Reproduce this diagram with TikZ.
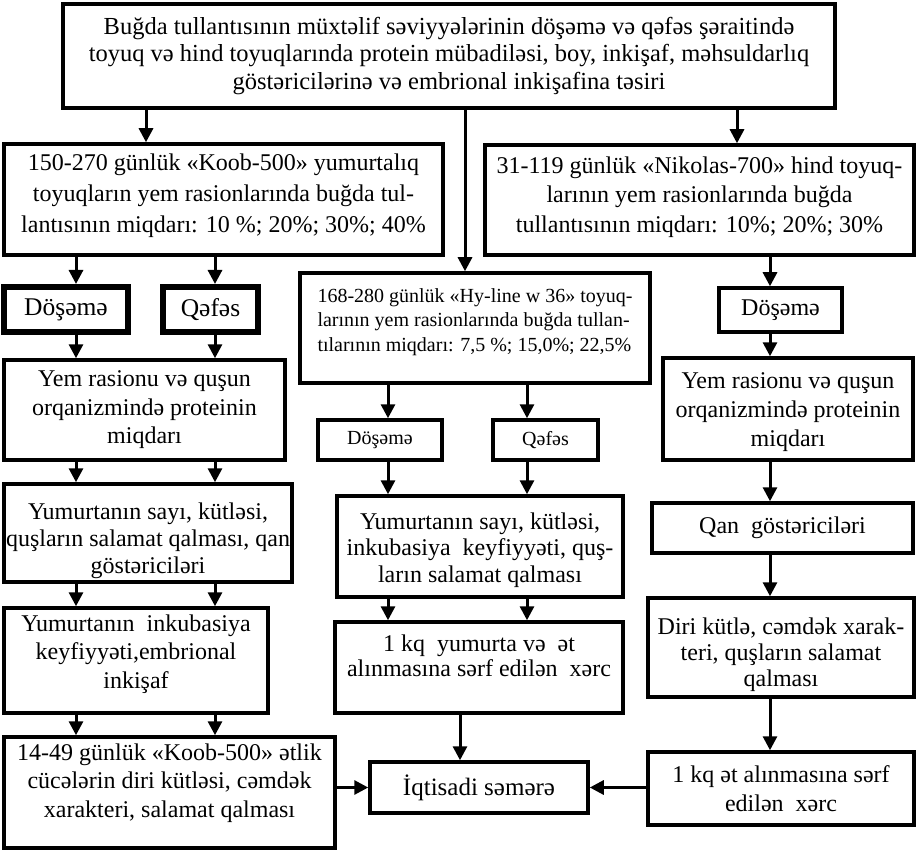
\documentclass[tikz,border=0pt]{standalone}
\usepackage{fontspec}
\setmainfont{Liberation Serif}
\usetikzlibrary{arrows.meta}
\tikzset{
  box/.style={draw, line width=3.5pt, align=center, inner sep=0pt, fill=white,
    font=\fontsize{24}{28.5}\selectfont},
  txt/.style={align=center, inner sep=0pt, font=\fontsize{24}{28.5}\selectfont},
  thickbox/.style={box, line width=6pt, font=\fontsize{25.5}{30}\selectfont},
  topbox/.style={box, line width=4.5pt, font=\fontsize{24.5}{27.5}\selectfont},
  hytxt/.style={txt, align=left, font=\fontsize{20}{24.5}\selectfont},
  smallbox/.style={box, font=\fontsize{20}{24}\selectfont},
  arr/.style={line width=3pt, -{Triangle[length=14pt,width=14pt]}}
}
\begin{document}
\begin{tikzpicture}[x=1pt,y=-1pt]
\useasboundingbox (0,0) rectangle (918,850);
% top
\node[topbox, minimum width=772pt, minimum height=104pt] (top) at (449,56)
 {Buğda tullantısının müxtəlif səviyyələrinin döşəmə və qəfəs şəraitində\\
  toyuq və hind toyuqlarında protein mübadiləsi, boy, inkişaf, məhsuldarlıq\\
  göstəricilərinə və embrional inkişafina təsiri};
% left column
\node[box, minimum width=439pt, minimum height=111pt] (L1) at (223.5,199.5) {};
\node[txt, font=\fontsize{24}{31}\selectfont] (L1t) at (223.5,196)
 {150-270 günlük «Koob-500» yumurtalıq\\toyuqların yem rasionlarında buğda tul-\\lantısının miqdarı: 10 \%; 20\%; 30\%; 40\%};
\node[thickbox, minimum width=124pt, minimum height=45pt] (LD) at (66,309.5) {Döşəmə};
\node[thickbox, minimum width=95pt, minimum height=45pt] (LQ) at (210.5,309.5) {Qəfəs};
\node[box, minimum width=281pt, minimum height=100pt] (LY) at (144.5,410)
 {Yem rasionu və quşun\\orqanizmində proteinin\\miqdarı};
\node[box, minimum width=288pt, minimum height=98pt] (LS) at (148,533) {};
\node[txt, font=\fontsize{24}{27}\selectfont] (LSt) at (148,541)
 {Yumurtanın sayı, kütləsi,\\quşların salamat qalması, qan\\göstəriciləri};
\node[box, minimum width=264pt, minimum height=105pt] (LI) at (136,660.5) {};
\node[txt] (LIt) at (136,654)
 {Yumurtanın~ inkubasiya\\keyfiyyəti,embrional\\inkişaf};
\node[box, minimum width=331pt, minimum height=111pt] (LB) at (169.5,792.5) {};
\node[txt] (LBt) at (169.5,783)
 {14-49 günlük «Koob-500» ətlik\\cücələrin diri kütləsi, cəmdək\\xarakteri, salamat qalması};
% middle column
\node[box, minimum width=350pt, minimum height=110pt] (H) at (475,328) {};
\node[hytxt] (Ht) at (475,322)
 {168-280 günlük «Hy-line w 36» toyuq-\\larının yem rasionlarında buğda tullan-\\tılarının miqdarı: 7,5 \%; 15,0\%; 22,5\%};
\node[smallbox, minimum width=124pt, minimum height=40pt] (MD) at (380,440) {Döşəmə};
\node[smallbox, minimum width=105pt, minimum height=40pt] (MQ) at (545.5,440) {Qəfəs};
\node[box, minimum width=286pt, minimum height=101pt] (MS) at (480,546.5) {};
\node[txt, font=\fontsize{24}{26.5}\selectfont] (MSt) at (480,550)
 {Yumurtanın sayı, kütləsi,\\inkubasiya~ keyfiyyəti, quş-\\ların salamat qalması};
\node[box, minimum width=288pt, minimum height=91pt] (MK) at (479,667.5) {};
\node[txt, font=\fontsize{24}{25}\selectfont] (MKt) at (479,656)
 {1 kq~ yumurta və~ ət\\alınmasına sərf edilən~ xərc};
\node[box, font=\fontsize{25}{28}\selectfont, minimum width=218pt, minimum height=51pt] (IQ) at (479,787.5) {İqtisadi səmərə};
% right column
\node[box, minimum width=429pt, minimum height=110pt] (R1) at (699.5,200) {};
\node[txt, font=\fontsize{24}{29.5}\selectfont] (R1t) at (699.5,197)
 {31-119 günlük «Nikolas-700» hind toyuq-\\larının yem rasionlarında buğda\\tullantısının miqdarı: 10\%; 20\%; 30\%};
\node[box, minimum width=123pt, minimum height=44pt] (RD) at (780.5,310) {Döşəmə};
\node[box, minimum width=250pt, minimum height=102pt] (RY) at (788,409) {};
\node[txt, font=\fontsize{24}{29}\selectfont] (RYt) at (788,412)
 {Yem rasionu və quşun\\orqanizmində proteinin\\miqdarı};
\node[box, minimum width=261pt, minimum height=50pt] (RQ) at (782.5,528) {Qan~ göstəriciləri};
\node[box, minimum width=266pt, minimum height=99pt] (RK) at (781,647.5) {};
\node[txt, font=\fontsize{24}{26}\selectfont] (RKt) at (781,655)
 {Diri kütlə, cəmdək xarak-\\teri, quşların salamat\\qalması};
\node[box, minimum width=266pt, minimum height=73pt] (RE) at (781,788.5)
 {1 kq ət alınmasına sərf\\edilən~ xərc};
% column x positions
\coordinate (cA) at (146,0);
\coordinate (cM) at (465,0);
\coordinate (cR) at (737,0);
\coordinate (c1) at (76,0);
\coordinate (c2) at (215,0);
\coordinate (c3) at (388,0);
\coordinate (c4) at (527,0);
\coordinate (c5) at (770,0);
\coordinate (c6) at (460,0);
% arrows
\draw[arr] (top.south -| cA) -- (L1.north -| cA);
\draw[arr] (top.south -| cM) -- (H.north -| cM);
\draw[arr] (top.south -| cR) -- (R1.north -| cR);
\draw[arr] (L1.south -| c1) -- (LD.north -| c1);
\draw[arr] (L1.south -| c2) -- (LQ.north -| c2);
\draw[arr] (LD.south -| c1) -- (LY.north -| c1);
\draw[arr] (LQ.south -| c2) -- (LY.north -| c2);
\draw[arr] (LY.south -| c1) -- (LS.north -| c1);
\draw[arr] (LY.south -| c2) -- (LS.north -| c2);
\draw[arr] (LS.south -| c1) -- (LI.north -| c1);
\draw[arr] (LS.south -| c2) -- (LI.north -| c2);
\draw[arr] (LI.south -| c1) -- (LB.north -| c1);
\draw[arr] (LI.south -| c2) -- (LB.north -| c2);
\draw[arr] (LB.east |- IQ.west) -- (IQ.west);
\draw[arr] (H.south -| c3) -- (MD.north -| c3);
\draw[arr] (H.south -| c4) -- (MQ.north -| c4);
\draw[arr] (MD.south -| c3) -- (MS.north -| c3);
\draw[arr] (MQ.south -| c4) -- (MS.north -| c4);
\draw[arr] (MS.south -| c3) -- (MK.north -| c3);
\draw[arr] (MS.south -| c4) -- (MK.north -| c4);
\draw[arr] (MK.south -| c6) -- (IQ.north -| c6);
\draw[arr] (R1.south -| c5) -- (RD.north -| c5);
\draw[arr] (RD.south -| c5) -- (RY.north -| c5);
\draw[arr] (RY.south -| c5) -- (RQ.north -| c5);
\draw[arr] (RQ.south -| c5) -- (RK.north -| c5);
\draw[arr] (RK.south -| c5) -- (RE.north -| c5);
\draw[arr] (RE.west |- IQ.east) -- (IQ.east);
\end{tikzpicture}
\end{document}
